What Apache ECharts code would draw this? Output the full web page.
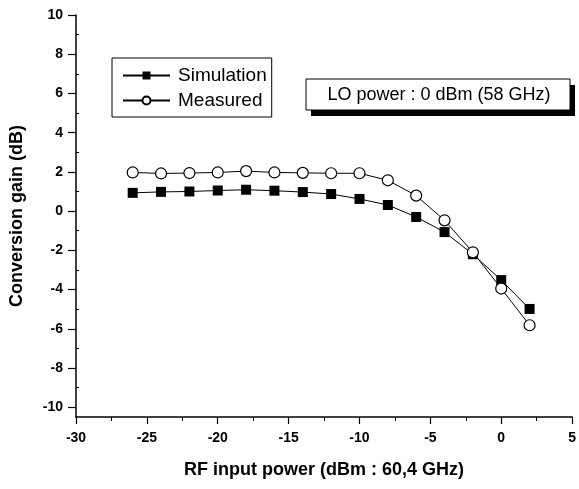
<!DOCTYPE html>
<html>
<head>
<meta charset="UTF-8">
<script src="https://cdn.jsdelivr.net/npm/echarts@6.0.0/dist/echarts.min.js"></script>
<style>
  html, body { margin: 0; padding: 0; background: #fff; }
  #main { width: 579px; height: 489px; }
</style>
</head>
<body>
<div id="main"></div>
<script>
// 数据
var rfPower = [-26, -24, -22, -20, -18, -16, -14, -12, -10, -8, -6, -4, -2, 0, 2];
var simulation = [0.93, 0.98, 1.0, 1.05, 1.09, 1.04, 0.97, 0.87, 0.62, 0.31, -0.3, -1.07, -2.2, -3.52, -4.99];
var measured = [1.97, 1.92, 1.94, 1.97, 2.04, 1.97, 1.95, 1.93, 1.93, 1.57, 0.79, -0.47, -2.1, -3.95, -5.82];
var yTicks = [-10, -8, -6, -4, -2, 0, 2, 4, 6, 8, 10];
var yMinorTicks = [-9, -7, -5, -3, -1, 1, 3, 5, 7, 9];
var xMinorTicks = [-27.5, -22.5, -17.5, -12.5, -7.5, -2.5, 2.5];

var chartDom = document.getElementById('main');
var myChart = echarts.init(chartDom);
var font = 'Liberation Sans, Arial, sans-serif';

function pairs(xs, ys) {
  return xs.map(function (x, i) { return [x, ys[i]]; });
}

var option = {
  animation: false,
  backgroundColor: '#fff',
  grid: { left: 76, right: 6, top: 15, bottom: 72 },
  xAxis: [{
    type: 'value',
    min: -30,
    max: 5,
    interval: 5,
    name: 'RF input power (dBm : 60,4 GHz)',
    nameLocation: 'middle',
    nameGap: 44,
    nameTextStyle: { fontFamily: font, fontSize: 18, fontWeight: 'bold', color: '#000' },
    axisLine: { onZero: false, lineStyle: { color: '#000', width: 1.5 } },
    axisTick: { length: 7, lineStyle: { color: '#000', width: 1.2 } },
    axisLabel: { fontFamily: font, fontSize: 14, fontWeight: 'bold', color: '#000', margin: 14 },
    splitLine: { show: false }
  }, {
    type: 'value',
    min: -30,
    max: 5,
    position: 'bottom',
    axisLine: { show: false, onZero: false },
    axisTick: { length: 4, customValues: xMinorTicks, lineStyle: { color: '#000' } },
    axisLabel: { show: false },
    splitLine: { show: false }
  }],
  yAxis: [{
    type: 'value',
    min: -10.5,
    max: 10,
    name: 'Conversion gain (dB)',
    nameLocation: 'middle',
    nameGap: 50,
    nameTextStyle: { fontFamily: font, fontSize: 18, fontWeight: 'bold', color: '#000' },
    axisLine: { show: true, onZero: false, lineStyle: { color: '#000', width: 1.5 } },
    axisTick: { show: true, length: 8, customValues: yTicks, lineStyle: { color: '#000', width: 1.2 } },
    axisLabel: { customValues: yTicks, fontFamily: font, fontSize: 14, fontWeight: 'bold', color: '#000', margin: 13 },
    splitLine: { show: false }
  }, {
    type: 'value',
    min: -10.5,
    max: 10,
    position: 'left',
    axisLine: { show: false, onZero: false },
    axisTick: { show: true, inside: true, length: 3, customValues: yMinorTicks, lineStyle: { color: '#000' } },
    axisLabel: { show: false },
    splitLine: { show: false }
  }],
  legend: {
    orient: 'vertical',
    left: 112,
    top: 58,
    itemWidth: 47,
    itemHeight: 10,
    itemGap: 6,
    padding: [8, 5, 7, 10],
    borderColor: '#000',
    borderWidth: 1,
    textStyle: { fontFamily: font, fontSize: 19, color: '#000', padding: [0, 0, 0, 3] },
    data: ['Simulation', 'Measured']
  },
  graphic: [{
    type: 'rect',
    shape: { x: 311, y: 85, width: 264, height: 31 },
    style: { fill: '#000' }
  }, {
    type: 'rect',
    shape: { x: 306, y: 79, width: 264, height: 31 },
    style: { fill: '#fff', stroke: '#000', lineWidth: 1 }
  }, {
    type: 'text',
    x: 439,
    y: 95,
    style: {
      text: 'LO power : 0 dBm (58 GHz)',
      font: '18px ' + font,
      fill: '#000',
      align: 'center',
      verticalAlign: 'middle'
    }
  }],
  series: [{
    name: 'Simulation',
    type: 'line',
    data: pairs(rfPower, simulation),
    symbol: 'rect',
    symbolSize: 10,
    itemStyle: { color: '#000' },
    lineStyle: { color: '#000', width: 1 }
  }, {
    name: 'Measured',
    type: 'line',
    data: pairs(rfPower, measured),
    symbol: 'circle',
    symbolSize: 11,
    itemStyle: { color: '#fff', borderColor: '#000', borderWidth: 1.2 },
    lineStyle: { color: '#000', width: 1 }
  }]
};

myChart.setOption(option);
</script>
</body>
</html>
